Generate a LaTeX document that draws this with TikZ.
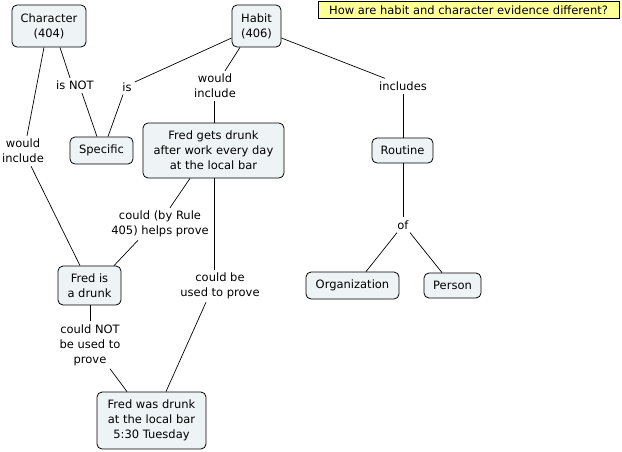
\documentclass[tikz,border=0pt]{standalone}
\usepackage{fontspec}
\setmainfont{DejaVu Sans}
\begin{document}
\begin{tikzpicture}[x=1pt,y=-1pt,
  concept/.style={draw=black, fill=boxfill, rounded corners=5pt, align=center, inner sep=1pt, line width=0.8pt},
  lab/.style={align=center, inner sep=3pt},
  link/.style={draw=black, line width=0.7pt},
  every node/.style={font=\fontsize{11.5}{15}\selectfont, text=black}]
\definecolor{boxfill}{HTML}{EEF3F6}
\definecolor{notefill}{HTML}{FFFF99}
\useasboundingbox (0,0) rectangle (622,451);
% concepts
\node[concept, minimum width=74pt, minimum height=42pt] (char) at (49,26) {Character\\(404)};
\node[concept, minimum width=49pt, minimum height=42pt] (habit) at (256.5,26) {Habit\\(406)};
\node[draw=black, fill=notefill, minimum width=301pt, minimum height=17pt, inner sep=0pt] (note) at (468.5,10) {How are habit and character evidence different?};
\node[concept, minimum width=63pt, minimum height=27pt] (spec) at (101.5,150.5) {Specific};
\node[concept, minimum width=141pt, minimum height=55pt] (gets) at (213.5,150.5) {Fred gets drunk\\after work every day\\at the local bar};
\node[concept, minimum width=61pt, minimum height=25pt] (rout) at (402.5,150.5) {Routine};
\node[concept, minimum width=93pt, minimum height=27pt] (org) at (352.5,285.5) {Organization};
\node[concept, minimum width=57pt, minimum height=25pt] (pers) at (452.5,285.5) {Person};
\node[concept, minimum width=63pt, minimum height=39pt] (isdr) at (89.5,285.5) {Fred is\\a drunk};
\node[concept, minimum width=109pt, minimum height=57pt] (was) at (151.5,420.5) {Fred was drunk\\at the local bar\\5:30 Tuesday};
% labels
\node[lab] (lisnot) at (75,85.5) {is NOT};
\node[lab] (lis) at (127,87) {is};
\node[lab] (lwi1) at (215,86) {would\\include};
\node[lab] (lincl) at (403,86) {includes};
\node[lab] (lwi2) at (23,151) {would\\include};
\node[lab] (lhelp) at (160,224) {could (by Rule\\405) helps prove};
\node[lab] (lused) at (220,286) {could be\\used to prove};
\node[lab] (lof) at (403,225) {of};
\node[lab] (lnot) at (90,345) {could NOT\\be used to\\prove};
% links
\draw[link] (char.south -| 44,0) -- (lwi2.north -| 27,0);
\draw[link] (lwi2.south -| 31,0) -- (isdr.north -| 80,0);
\draw[link] (char.south -| 60,0) -- (lisnot.north -| 70,0);
\draw[link] (lisnot.south -| 82,0) -- (spec.north -| 97,0);
\draw[link] (habit.west |- 0,38) -- (lis.east |- 0,82);
\draw[link] (lis.south -| 123,0) -- (spec.north -| 108,0);
\draw[link] (habit.south -| 240,0) -- (lwi1.north -| 225,0);
\draw[link] (lwi1.south -| 214,0) -- (gets.north -| 214,0);
\draw[link] (habit.east |- 0,38) -- (lincl.north -| 385,0);
\draw[link] (lincl.south -| 403,0) -- (rout.north -| 403,0);
\draw[link] (rout.south -| 403,0) -- (lof.north -| 403,0);
\draw[link] (lof.south -| 397,0) -- (org.north -| 366,0);
\draw[link] (lof.south -| 410,0) -- (pers.north -| 442,0);
\draw[link] (gets.south -| 190,0) -- (lhelp.north -| 170,0);
\draw[link] (lhelp.south -| 138,0) -- (isdr.north -| 114,0);
\draw[link] (gets.south -| 214,0) -- (lused.north -| 214,0);
\draw[link] (lused.south -| 206,0) -- (was.north -| 166,0);
\draw[link] (isdr.south -| 90,0) -- (lnot.north -| 90,0);
\draw[link] (lnot.south -| 110,0) -- (was.north -| 127,0);
\end{tikzpicture}
\end{document}
